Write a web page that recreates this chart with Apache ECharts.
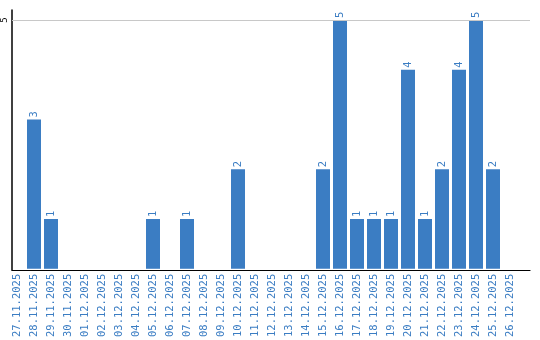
<!DOCTYPE html>
<html>
<head>
<meta charset="utf-8">
<script src="https://cdn.jsdelivr.net/npm/echarts@6/dist/echarts.min.js"></script>
<style>html,body{margin:0;padding:0;background:#fff}#c{width:540px;height:340px}</style>
</head>
<body>
<div id="c"></div>
<script>
const categories = ['27.11.2025','28.11.2025','29.11.2025','30.11.2025','01.12.2025','02.12.2025','03.12.2025','04.12.2025','05.12.2025','06.12.2025','07.12.2025','08.12.2025','09.12.2025','10.12.2025','11.12.2025','12.12.2025','13.12.2025','14.12.2025','15.12.2025','16.12.2025','17.12.2025','18.12.2025','19.12.2025','20.12.2025','21.12.2025','22.12.2025','23.12.2025','24.12.2025','25.12.2025','26.12.2025'];
const values = [0,3,1,0,0,0,0,0,1,0,1,0,0,2,0,0,0,0,2,5,1,1,1,4,1,2,4,5,2,0];
const yTicks = [5];

const blue = '#3b7dc3';
const mono = 'DejaVu Sans Mono';
const chart = echarts.init(document.getElementById('c'));
chart.setOption({
  animation: false,
  grid: [
    {left: 8.5, right: 21.5, top: 10, bottom: 70},
    {left: 10.5, right: 10, top: 10, bottom: 70}
  ],
  xAxis: [
    {type: 'category', gridIndex: 0, data: categories,
     axisLine: {show: false}, axisTick: {show: false},
     axisLabel: {rotate: 90, interval: 0, color: blue, fontFamily: mono, fontSize: 10.5, margin: 5}},
    {type: 'value', gridIndex: 1, min: 0, max: 1,
     axisLine: {show: true, onZero: false, lineStyle: {color: '#000', width: 1.2}},
     axisTick: {show: false}, axisLabel: {show: false}, splitLine: {show: false}}
  ],
  yAxis: [
    {type: 'value', gridIndex: 0, min: 0, max: 5.2, show: false},
    {type: 'value', gridIndex: 1, min: 0, max: 5.2, interval: 5,
     axisLine: {show: true, lineStyle: {color: '#000', width: 1.5}},
     axisTick: {show: false},
     axisLabel: {rotate: 90, color: '#000', fontFamily: mono, fontSize: 9, margin: 3,
       formatter: v => yTicks.includes(v) ? String(v) : '', showMinLabel: false},
     splitLine: {show: false}}
  ],
  series: [{
    type: 'bar', xAxisIndex: 0, yAxisIndex: 0, data: values,
    barWidth: 14, itemStyle: {color: blue},
    label: {show: true, position: 'top', rotate: 90, align: 'left', verticalAlign: 'middle',
      distance: 2, color: blue, fontFamily: mono, fontSize: 10.5,
      formatter: p => p.value ? String(p.value) : ''}
  }, {
    type: 'line', xAxisIndex: 1, yAxisIndex: 1, data: [], silent: true,
    markLine: {silent: true, symbol: 'none', label: {show: false},
      lineStyle: {color: '#c8c8c8', width: 1, type: 'solid'},
      data: yTicks.map(v => ({yAxis: v}))}
  }]
});
</script>
</body>
</html>
